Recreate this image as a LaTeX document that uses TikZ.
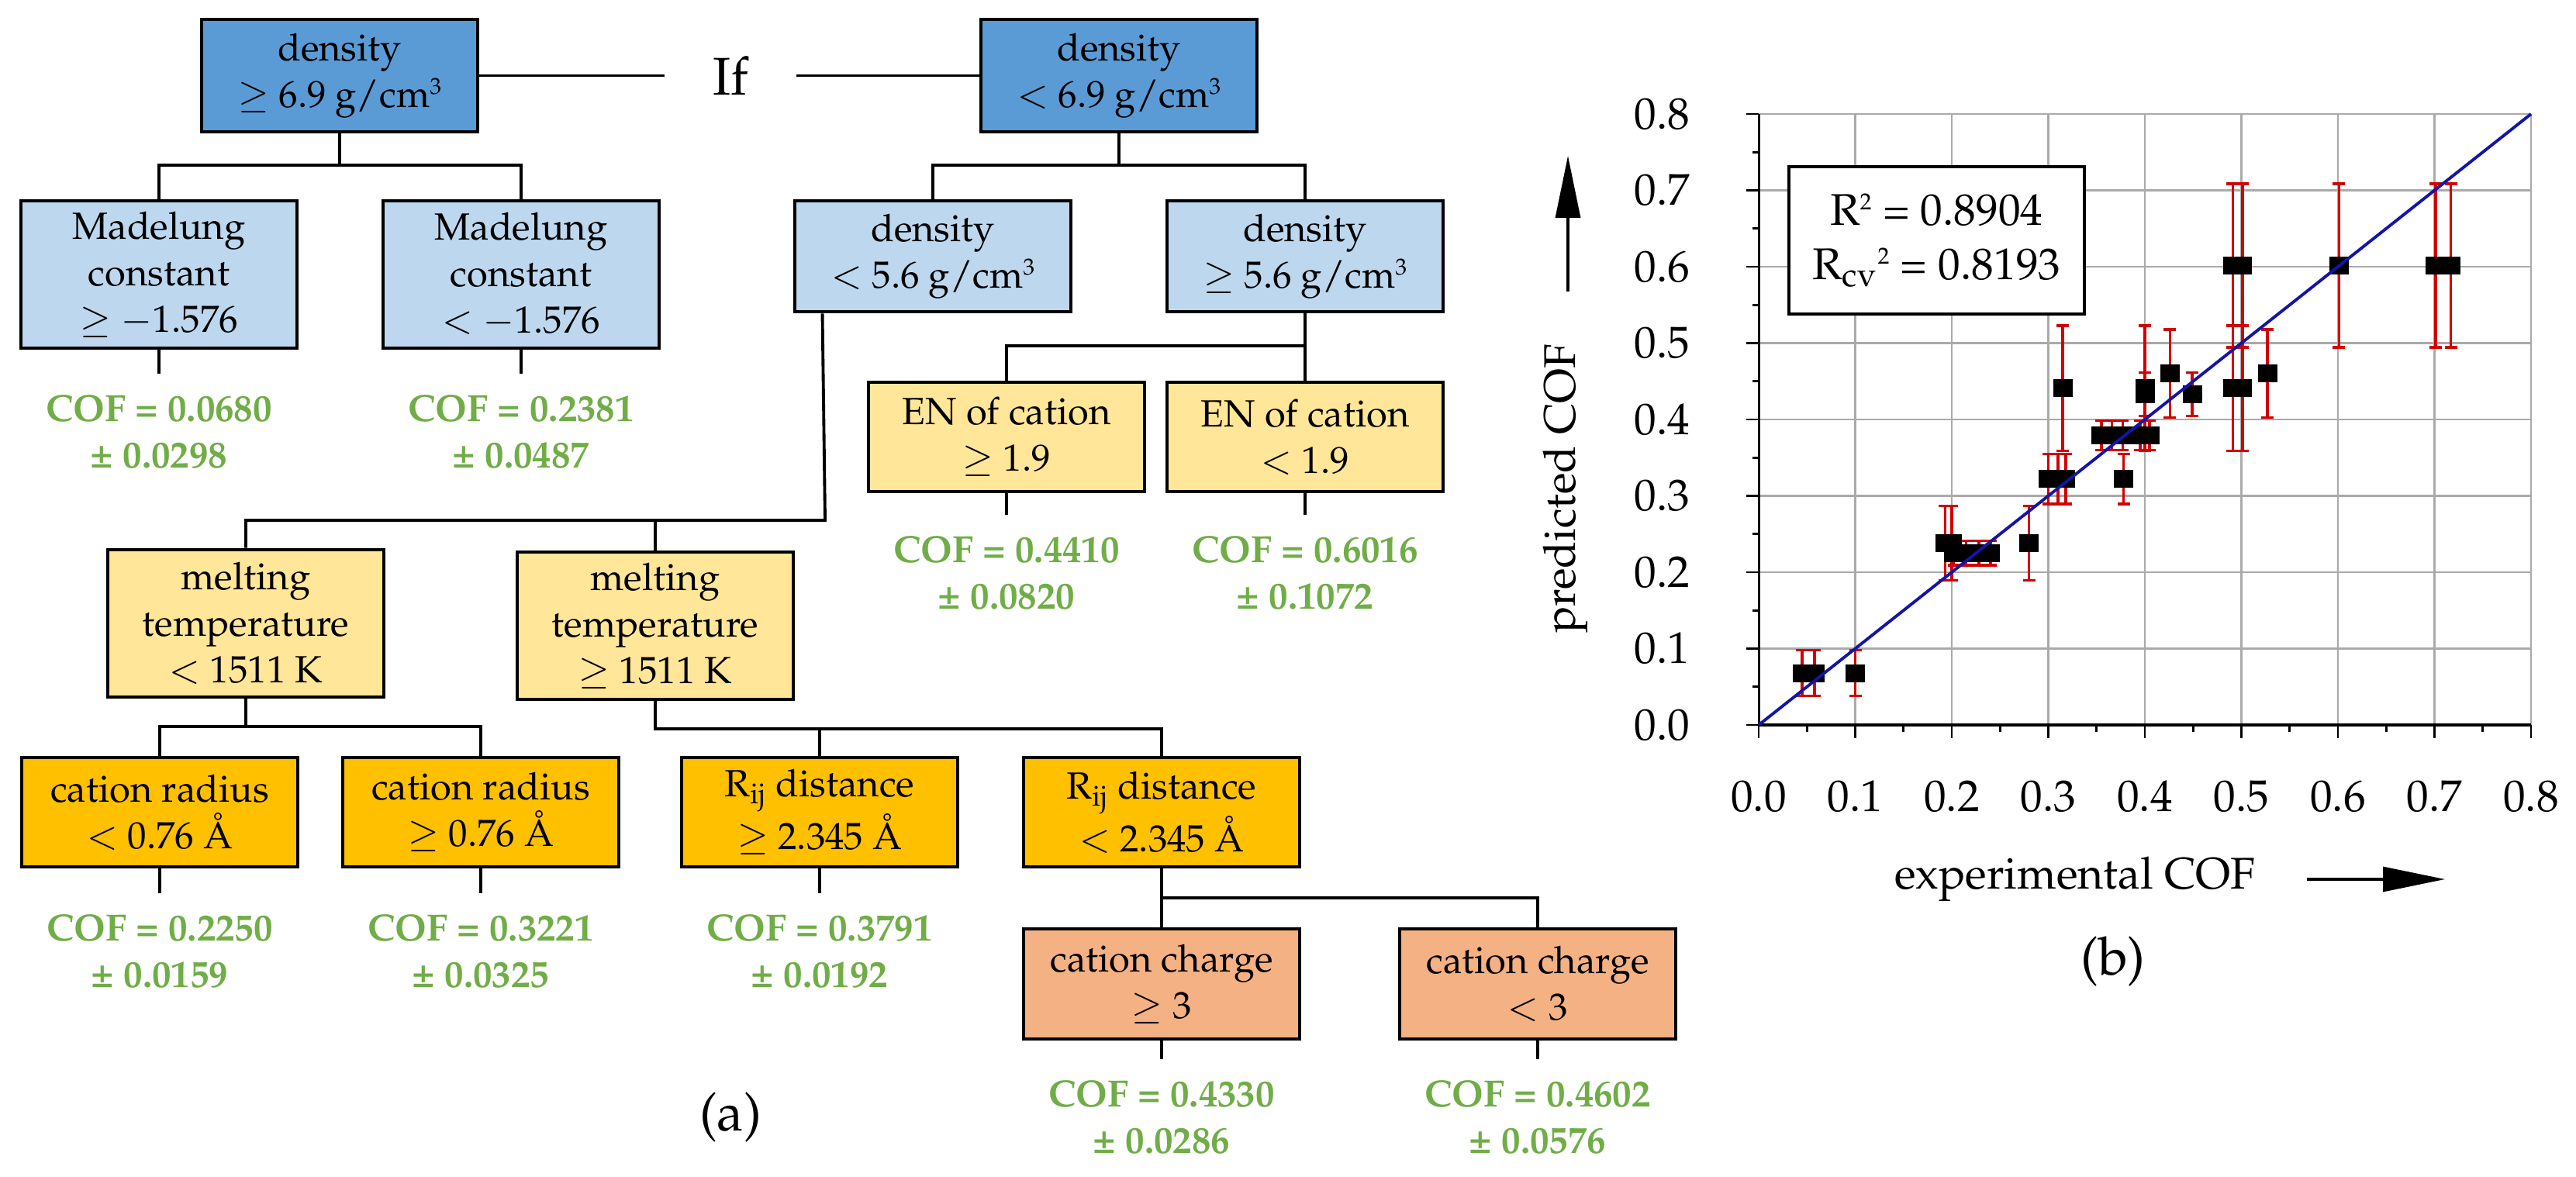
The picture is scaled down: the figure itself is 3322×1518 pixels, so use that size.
\documentclass[tikz,border=0pt]{standalone}
\usepackage[T1]{fontenc}
\usepackage{mathpazo}
\usepackage{xcolor}
\usepackage{amsmath,amssymb}
\usepackage{tikz}
\usetikzlibrary{arrows.meta}

\definecolor{blueD}{RGB}{91,155,213}
\definecolor{blueL}{RGB}{189,215,238}
\definecolor{yelL}{RGB}{255,230,153}
\definecolor{amber}{RGB}{255,192,0}
\definecolor{salmon}{RGB}{244,177,131}
\definecolor{cofgreen}{RGB}{112,173,71}
\definecolor{errred}{RGB}{210,0,0}
\definecolor{fitblue}{RGB}{20,20,170}
\definecolor{gridgray}{RGB}{170,170,170}

\newcommand\treefont{\fontsize{13.9}{17.07}\selectfont}
\newcommand\plotfont{\fontsize{16.3}{20}\selectfont}
\newcommand\bigfont{\fontsize{19.5}{23}\selectfont}
\newcommand\smallsup[1]{\raisebox{0.75ex}{\fontsize{8.5}{9}\selectfont #1}}

\begin{document}
\begin{tikzpicture}[x=0.1mm,y=-0.1mm]
  \tikzstyle{every node}=[font=\treefont]
  \tikzstyle{split}=[draw,line width=1.4pt,minimum width=35.6mm,align=center,inner sep=0pt]
  \tikzstyle{leaf}=[anchor=north,align=center,text=cofgreen,font=\treefont\bfseries,inner xsep=0pt,inner ysep=2.7mm]
  \tikzstyle{branch}=[line width=1.1pt]
  \tikzstyle{gridline}=[gridgray,line width=0.8pt]
  \tikzstyle{errbar}=[errred,line width=1pt]
  \tikzstyle{ticklab}=[font=\plotfont,inner sep=0pt]
  \tikzstyle{axarrow}=[line width=0.9pt,-{Triangle[length=8mm,width=3.2mm]}]
  \useasboundingbox (0,0) rectangle (3322,1518);

  % (a) decision tree
  \node[split,fill=blueD,minimum height=14.5mm] (dens69ge) at (438,97.5) {density\\$\geq$ 6.9 g/cm\smallsup{3}};
  \node[font=\bigfont,minimum width=16.9mm,inner sep=0pt] (ifnode) at (942,97.5) {If};
  \node[split,fill=blueD,minimum height=14.5mm] (dens69lt) at (1443,97.5) {density\\$<$ 6.9 g/cm\smallsup{3}};
  \node[split,fill=blueL,minimum height=19mm] (madge) at (205,354) {Madelung\\constant\\$\geq$ $-$1.576};
  \node[split,fill=blueL,minimum height=19mm] (madlt) at (672,354) {Madelung\\constant\\$<$ $-$1.576};
  \node[split,fill=blueL,minimum height=14.3mm] (dens56lt) at (1203,330.5) {density\\$<$ 5.6 g/cm\smallsup{3}};
  \node[split,fill=blueL,minimum height=14.3mm] (dens56ge) at (1683,330.5) {density\\$\geq$ 5.6 g/cm\smallsup{3}};
  \node[split,fill=yelL,minimum height=14.1mm] (enge) at (1298,563.5) {EN of cation\\$\geq$ 1.9};
  \node[split,fill=yelL,minimum height=14.1mm] (enlt) at (1683,563.5) {EN of cation\\$<$ 1.9};
  \node[split,fill=yelL,minimum height=19mm] (meltlt) at (317,804) {melting\\temperature\\$<$ 1511 K};
  \node[split,fill=yelL,minimum height=19mm] (meltge) at (845,807) {melting\\temperature\\$\geq$ 1511 K};
  \node[split,fill=amber,minimum height=14.1mm] (radlt) at (206,1047.5) {cation radius\\$<$ 0.76 \AA};
  \node[split,fill=amber,minimum height=14.1mm] (radge) at (620,1047.5) {cation radius\\$\geq$ 0.76 \AA};
  \node[split,fill=amber,minimum height=14.1mm] (rijge) at (1057,1047.5) {R\textsubscript{ij} distance\\$\geq$ 2.345 \AA};
  \node[split,fill=amber,minimum height=14.1mm] (rijlt) at (1498,1047.5) {R\textsubscript{ij} distance\\$<$ 2.345 \AA};
  \node[split,fill=salmon,minimum height=14.2mm] (chgge) at (1498,1269) {cation charge\\$\geq$ 3};
  \node[split,fill=salmon,minimum height=14.2mm] (chglt) at (1983,1269) {cation charge\\$<$ 3};

  \node[leaf] (cofmadge) at (205,482) {COF = 0.0680\\\textpm\ 0.0298};
  \node[leaf] (cofmadlt) at (672,482) {COF = 0.2381\\\textpm\ 0.0487};
  \node[leaf] (cofenge) at (1298,664) {COF = 0.4410\\\textpm\ 0.0820};
  \node[leaf] (cofenlt) at (1683,664) {COF = 0.6016\\\textpm\ 0.1072};
  \node[leaf] (cofradlt) at (206,1152) {COF = 0.2250\\\textpm\ 0.0159};
  \node[leaf] (cofradge) at (620,1152) {COF = 0.3221\\\textpm\ 0.0325};
  \node[leaf] (cofrijge) at (1057,1152) {COF = 0.3791\\\textpm\ 0.0192};
  \node[leaf] (cofchgge) at (1498,1366) {COF = 0.4330\\\textpm\ 0.0286};
  \node[leaf] (cofchglt) at (1983,1366) {COF = 0.4602\\\textpm\ 0.0576};
  \node[font=\bigfont] (labela) at (942,1441) {(a)};

  \coordinate (j1) at (438,213);
  \coordinate (j2) at (1443,213);
  \coordinate (j3) at (1064,671);
  \coordinate (j4) at (1683,446);
  \coordinate (j5) at (317,937);
  \coordinate (j6) at (845,940);
  \coordinate (j7) at (1498,1158);
  \draw[branch] (dens69ge.east) -- (ifnode.west);
  \draw[branch] (ifnode.east) -- (dens69lt.west);
  \draw[branch] (dens69ge.south) -- (j1);
  \draw[branch] (madge.north) |- (j1) -| (madlt.north);
  \draw[branch] (dens69lt.south) -- (j2);
  \draw[branch] (dens56lt.north) |- (j2) -| (dens56ge.north);
  \draw[branch] ([xshift=3.8mm]dens56lt.south west) -- (j3) -| (meltlt.north);
  \draw[branch] (meltge.north) -- (meltge.north |- j3);
  \draw[branch] (dens56ge.south) -- (enlt.north);
  \draw[branch] (enge.north) |- (j4);
  \draw[branch] (meltlt.south) -- (j5);
  \draw[branch] (radlt.north) |- (j5) -| (radge.north);
  \draw[branch] (meltge.south) -- (j6) -| (rijlt.north);
  \draw[branch] (rijge.north) -- (rijge.north |- j6);
  \draw[branch] (rijlt.south) -- (chgge.north);
  \draw[branch] (j7) -| (chglt.north);
  \draw[branch] (madge.south) -- (cofmadge.north);
  \draw[branch] (madlt.south) -- (cofmadlt.north);
  \draw[branch] (enge.south) -- (cofenge.north);
  \draw[branch] (enlt.south) -- (cofenlt.north);
  \draw[branch] (radlt.south) -- (cofradlt.north);
  \draw[branch] (radge.south) -- (cofradge.north);
  \draw[branch] (rijge.south) -- (cofrijge.north);
  \draw[branch] (chgge.south) -- (cofchgge.north);
  \draw[branch] (chglt.south) -- (cofchglt.north);

  % (b) predicted vs experimental
  \begin{scope}[shift={(2268,935)},x=124.5mm,y=98.5mm]
    \foreach \i in {1,...,8} {
      \draw[gridline] (\i/10,0) -- (\i/10,0.8);
      \draw[gridline] (0,\i/10) -- (0.8,\i/10);
    }
    \foreach \i in {0,...,16} {
      \ifodd\i
        \draw[line width=0.8pt] (\i/20,0) -- ++(0mm,-0.9mm);
        \draw[line width=0.8pt] (0,\i/20) -- ++(-0.8mm,0mm);
      \else
        \draw[line width=0.8pt] (\i/20,0) -- ++(0mm,-1.7mm);
        \draw[line width=0.8pt] (0,\i/20) -- ++(-1.6mm,0mm);
      \fi
    }
    \draw[line width=0.85pt] (0,0) -- (0,0.8);
    \draw[line width=1.1pt] (0,0) -- (0.8,0);
    \foreach \i in {0,...,8} {
      \node[ticklab,anchor=east] (ylab\i) at ([xshift=-8.8mm]0,\i/10) {0.\i};
      \node[ticklab] (xlab\i) at ([yshift=-9.2mm]\i/10,0) {0.\i};
    }
    \foreach \px/\py/\pe in {0.045/0.068/0.0298, 0.058/0.068/0.0298, 0.100/0.068/0.0298,
        0.193/0.2381/0.0487, 0.200/0.2381/0.0487, 0.280/0.2381/0.0487,
        0.202/0.225/0.0159, 0.215/0.225/0.0159, 0.228/0.225/0.0159, 0.240/0.225/0.0159,
        0.300/0.3221/0.0325, 0.310/0.3221/0.0325, 0.318/0.3221/0.0325, 0.378/0.3221/0.0325,
        0.315/0.441/0.082, 0.400/0.441/0.082, 0.491/0.441/0.082, 0.501/0.441/0.082,
        0.355/0.3791/0.0192, 0.366/0.3791/0.0192, 0.377/0.3791/0.0192,
        0.395/0.3791/0.0192, 0.405/0.3791/0.0192,
        0.400/0.433/0.0286, 0.449/0.433/0.0286,
        0.426/0.4602/0.0576, 0.527/0.4602/0.0576,
        0.491/0.6016/0.1072, 0.501/0.6016/0.1072, 0.601/0.6016/0.1072,
        0.701/0.6016/0.1072, 0.717/0.6016/0.1072} {
      \draw[errbar] (\px,\py-\pe) -- (\px,\py+\pe);
      \draw[errbar] (\px,\py-\pe) +(-0.8mm,0mm) -- +(0.8mm,0mm);
      \draw[errbar] (\px,\py+\pe) +(-0.8mm,0mm) -- +(0.8mm,0mm);
    }
    \foreach \px/\py in {0.045/0.068, 0.058/0.068, 0.100/0.068,
        0.193/0.2381, 0.200/0.2381, 0.280/0.2381,
        0.202/0.225, 0.215/0.225, 0.228/0.225, 0.240/0.225,
        0.300/0.3221, 0.310/0.3221, 0.318/0.3221, 0.378/0.3221,
        0.315/0.441, 0.400/0.441, 0.491/0.441, 0.501/0.441,
        0.355/0.3791, 0.366/0.3791, 0.377/0.3791, 0.395/0.3791, 0.405/0.3791,
        0.400/0.433, 0.449/0.433, 0.426/0.4602, 0.527/0.4602,
        0.491/0.6016, 0.501/0.6016, 0.601/0.6016, 0.701/0.6016, 0.717/0.6016}
      \fill (\px,\py) +(-1.25mm,-1.15mm) rectangle +(1.25mm,1.15mm);
    \draw[fitblue,line width=1.1pt] (0,0) -- (0.8,0.8);
  \end{scope}
  \node[draw,fill=white,line width=0.9pt,minimum width=38.1mm,minimum height=19mm,align=center,font=\plotfont] (fitbox) at (2497.5,310)
    {R\smallsup{2} = 0.8904\\R\textsubscript{cv}\smallsup{2} = 0.8193};
  \node[font=\plotfont,rotate=90] (ylabel) at (2019,630) {predicted COF};
  \node[font=\plotfont] (xlabel) at (2676,1134) {experimental COF};
  \coordinate (yarr0) at (2022,376);
  \coordinate (yarr1) at (2022,201);
  \coordinate (xarr0) at (2975,1134);
  \coordinate (xarr1) at (3153,1134);
  \draw[axarrow] (yarr0) -- (yarr1);
  \draw[axarrow] (xarr0) -- (xarr1);
  \node[font=\bigfont] (labelb) at (2725,1240) {(b)};
\end{tikzpicture}
\end{document}
